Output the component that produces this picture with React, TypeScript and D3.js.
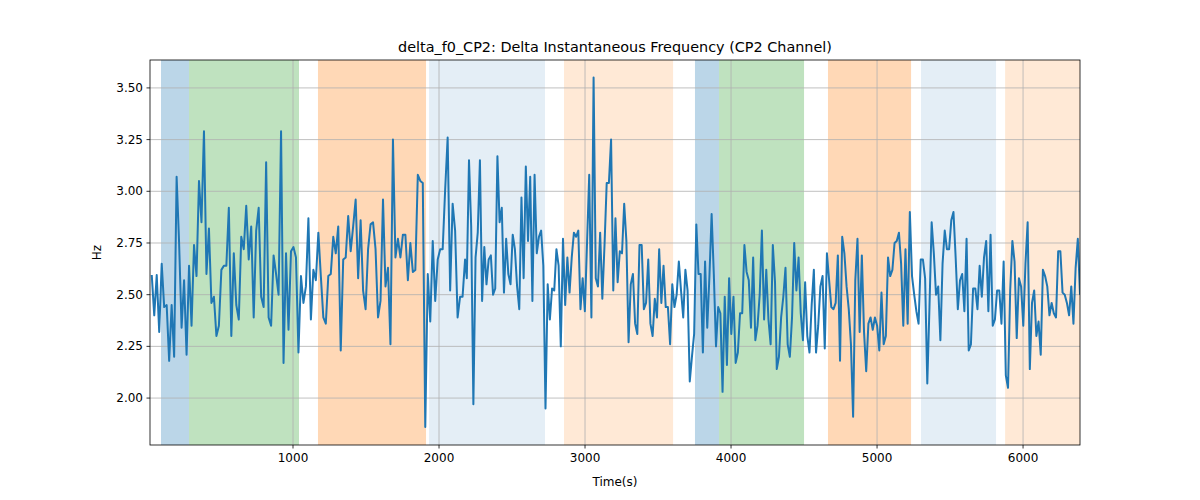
import React from "react";
import * as d3 from "d3";

const seg1 = [2.595,2.40,2.595,2.32,2.65,2.44,2.45,2.18,2.45,2.20,3.07,2.75,2.34,2.57,2.21,2.64,2.35,2.74,2.59,3.05,2.85,3.29,2.60,2.82,2.46,2.49,2.30,2.35,2.62,2.64,2.64,2.92,2.30,2.70,2.45,2.38,2.78,2.72,2.93,2.67,2.83,2.39,2.81,2.92,2.49,2.44,3.14,2.39,2.35,2.69,2.60,2.50,3.29,2.17,2.70,2.33,2.71,2.73,2.68,2.22,2.59,2.46,2.54,2.87,2.38,2.62,2.57,2.80,2.59,2.39,2.36,2.59,2.60,2.78,2.70,2.83,2.23,2.67,2.68,2.88,2.71,2.83,2.96,2.58,2.86,2.52,2.43,2.72,2.84,2.85,2.72,2.39,2.47,2.96,2.54,2.63,2.26,3.25,2.68,2.77,2.68,2.79,2.79,2.57,2.75,2.61,2.62,3.08,3.05,3.04,1.86,2.60,2.37,2.76,2.47,2.67,2.72,2.72,3.01,3.26,2.52,2.94,2.81,2.39,2.49,2.49,2.67];
const seg2 = [2.58,3.15,2.83,1.97,2.68,2.80,3.15,2.47,2.73,2.55,2.67,2.69,2.50,2.53,3.17,2.85,2.92,2.51,2.77,2.60,2.55,2.79,2.72,2.54,2.43,2.97,2.58,3.12,2.76,3.07,2.47,3.08,2.70,2.78,2.81,2.64,1.95,2.55,2.38,2.53,2.52,2.72,2.64,2.25,2.77,2.45,2.68,2.51,2.68,2.80,2.78,2.81,2.43,2.58,2.42,2.75,3.08,2.39,3.55,2.58,2.54,2.80,2.48,2.74,3.04,3.04,3.25,2.52,2.87,2.56,2.71,2.70,2.94,2.76,2.27,2.55,2.60,2.36,2.31,2.74,2.74,2.43,2.46,2.67,2.36,2.30,2.48,2.39,2.72,2.46,2.64,2.44,2.44,2.26,2.55,2.44,2.50,2.66,2.52,2.39,2.62,2.52,2.08,2.20,2.31,2.84,2.60,2.60,2.22,2.66,2.34,2.59,2.89,2.60,2.25,2.44,2.41,2.03,2.49,2.16,2.58,2.31,2.49,2.17,2.22,2.41,2.41,2.74,2.61,2.57,2.34,2.68,2.28,2.35,2.50,2.81,2.38,2.62,2.38,2.26,2.74,2.56];
const seg3 = [2.14,2.20,2.39,2.49,2.63,2.26,2.20,2.39,2.75,2.52,2.68,2.41,2.28,2.56,2.30,2.22,2.45,2.62,2.22,2.35,2.54,2.59,2.24,2.70,2.57,2.44,2.43,2.46,2.69,2.18,2.78,2.70,2.54,2.43,2.26,1.91,2.57,2.77,2.32,2.69,2.32,2.13,2.36,2.39,2.33,2.39,2.35,2.23,2.51,2.26,2.30,2.68,2.59,2.62,2.75,2.76,2.80,2.65,2.35,2.72,2.36,2.90,2.59,2.50,2.42,2.36,2.67,2.67,2.58,2.07,2.44,2.85,2.70,2.50,2.54,2.28,2.65,2.81,2.72,2.72,2.86,2.90,2.68,2.43,2.57,2.60,2.42,2.77,2.23,2.26,2.53,2.53,2.43,2.64,2.49,2.68,2.76,2.42,2.79,2.35,2.38,2.52,2.52,2.36,2.66,2.11,2.05,2.52,2.76,2.66,2.29,2.58,2.54,2.35,2.65,2.85,2.14,2.46,2.52,2.30,2.37,2.21,2.62,2.59,2.54,2.40,2.46,2.41,2.39,2.71,2.71,2.51,2.50,2.46,2.40,2.54,2.36,2.63,2.77,2.50];
const segRanges: [number, number][] = [[32, 2178], [2190, 4301], [4313, 6390]];

const spans = [
  { x0: 96, x1: 288, color: "#1f77b4", op: 0.3 },
  { x0: 288, x1: 1041, color: "#2ca02c", op: 0.3 },
  { x0: 1171, x1: 1911, color: "#ff7f0e", op: 0.3 },
  { x0: 1932, x1: 2726, color: "#1f77b4", op: 0.12 },
  { x0: 2856, x1: 3603, color: "#ff7f0e", op: 0.17 },
  { x0: 3753, x1: 3918, color: "#1f77b4", op: 0.3 },
  { x0: 3918, x1: 4500, color: "#2ca02c", op: 0.3 },
  { x0: 4664, x1: 5233, color: "#ff7f0e", op: 0.3 },
  { x0: 5301, x1: 5815, color: "#1f77b4", op: 0.12 },
  { x0: 5877, x1: 6500, color: "#ff7f0e", op: 0.17 },
];
const xTicks = [1000, 2000, 3000, 4000, 5000, 6000];
const yTicks = [2.0, 2.25, 2.5, 2.75, 3.0, 3.25, 3.5];

export default function App() {
  const L = 150, R = 1080, T = 60, B = 445;
  const x = d3.scaleLinear().domain([0, 6390]).range([147, 1080]);
  const xs = d3.scaleLinear().domain([20, 6390]).range([L, R]);
  const y = d3.scaleLinear().domain([1.773, 3.635]).range([B, T]);
  const pts: [number, number][] = [];
  [seg1, seg2, seg3].forEach((s, k) => {
    const [a, b] = segRanges[k];
    s.forEach((v, i) => pts.push([a + (b - a) * i / (s.length - 1), v]));
  });
  const line = d3.line<[number, number]>().x(d => xs(d[0])).y(d => y(d[1]));
  const font = "DejaVu Sans, sans-serif";
  return (
    <svg width={1200} height={500} style={{ position: "absolute", left: 0, top: 0 }} fontFamily={font}>
      <rect width={1200} height={500} fill="#fff" />
      <defs><clipPath id="c"><rect x={L} y={T} width={R - L} height={B - T} /></clipPath></defs>
      <g clipPath="url(#c)">
        {spans.map((s, i) => (
          <rect key={i} x={x(s.x0)} y={T} width={x(s.x1) - x(s.x0)} height={B - T} fill={s.color} opacity={s.op} />
        ))}
        {xTicks.map(t => <line key={t} x1={x(t)} x2={x(t)} y1={T} y2={B} stroke="#b0b0b0" strokeWidth={0.8} />)}
        {yTicks.map(t => <line key={t} x1={L} x2={R} y1={y(t)} y2={y(t)} stroke="#b0b0b0" strokeWidth={0.8} />)}
        <path d={line(pts) || ""} fill="none" stroke="#1f77b4" strokeWidth={2} strokeLinejoin="round" />
      </g>
      <rect x={L} y={T} width={R - L} height={B - T} fill="none" stroke="#000" strokeWidth={0.8} />
      {xTicks.map(t => (
        <g key={t}>
          <line x1={x(t)} x2={x(t)} y1={B} y2={B + 3.5} stroke="#000" strokeWidth={0.8} />
          <text x={x(t)} y={B + 17} fontSize={12} textAnchor="middle">{t}</text>
        </g>
      ))}
      {yTicks.map(t => (
        <g key={t}>
          <line x1={L - 3.5} x2={L} y1={y(t)} y2={y(t)} stroke="#000" strokeWidth={0.8} />
          <text x={L - 7} y={y(t) + 4} fontSize={12} textAnchor="end">{t.toFixed(2)}</text>
        </g>
      ))}
      <text x={(L + R) / 2} y={486} fontSize={12} textAnchor="middle">Time(s)</text>
      <text transform={`translate(101,${(T + B) / 2}) rotate(-90)`} fontSize={12} textAnchor="middle">Hz</text>
      <text x={(L + R) / 2} y={52} fontSize={14.4} textAnchor="middle">delta_f0_CP2: Delta Instantaneous Frequency (CP2 Channel)</text>
    </svg>
  );
}
